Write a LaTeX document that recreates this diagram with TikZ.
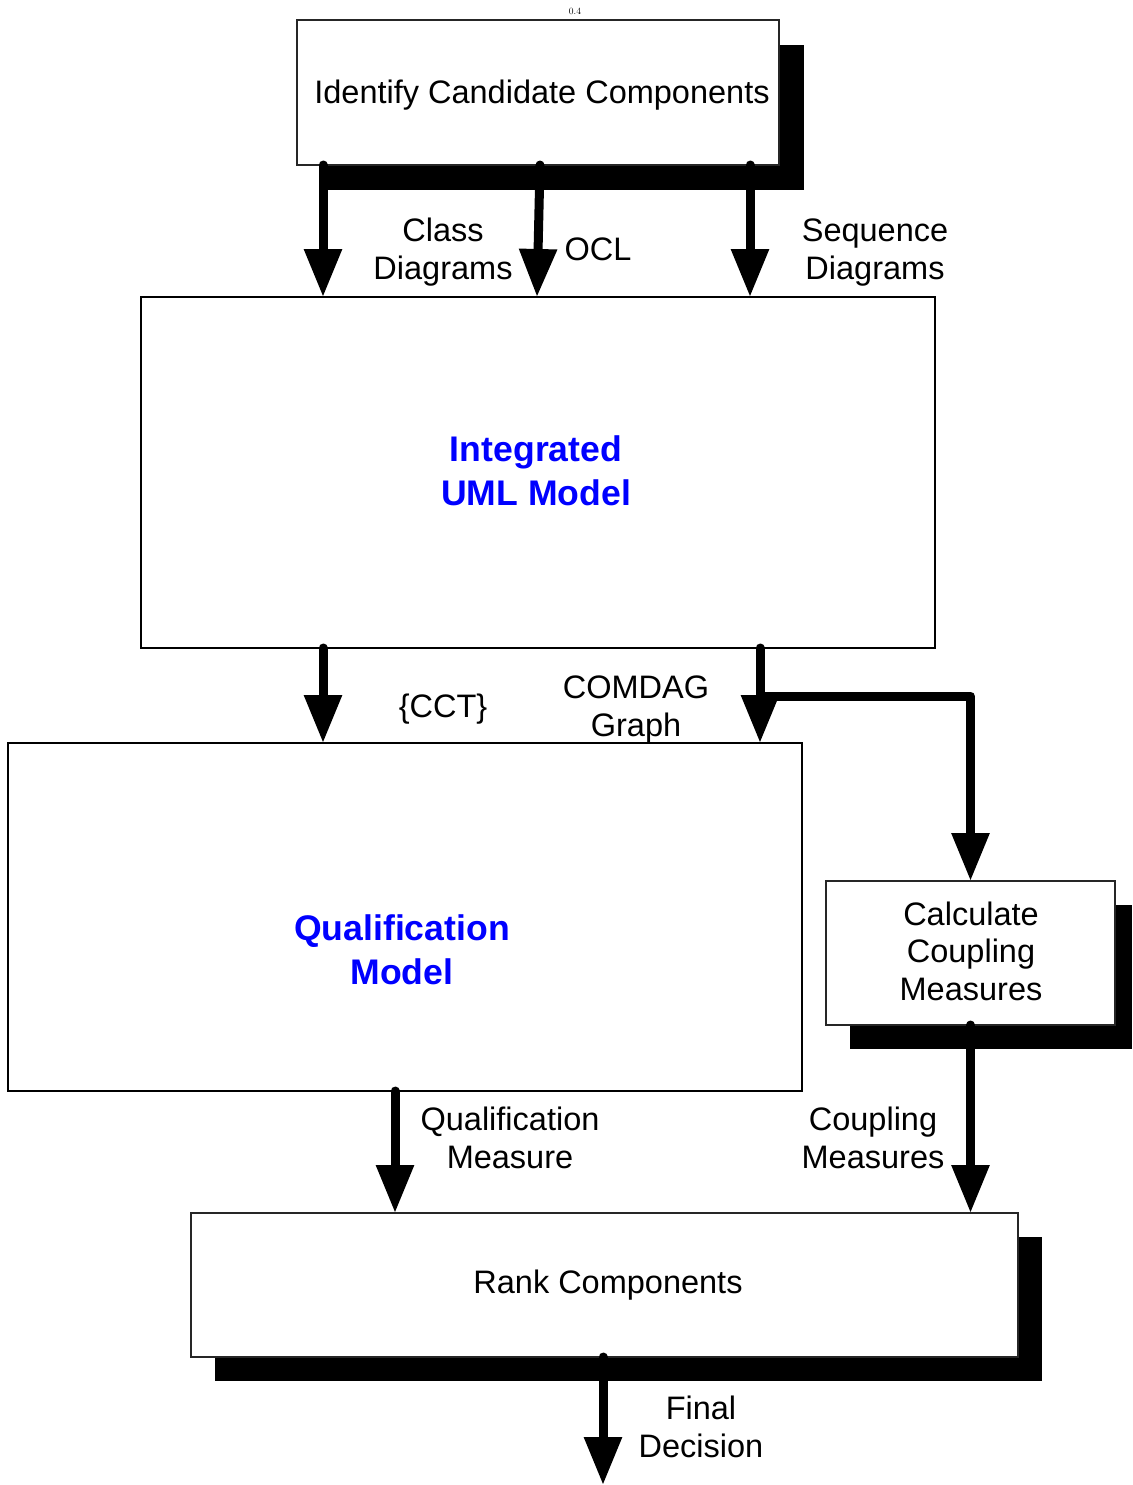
\documentclass[tikz,border=0pt]{standalone}
\usepackage{fontspec}
\newfontfamily\arial{Liberation Sans}
\usetikzlibrary{arrows.meta,calc}
\begin{document}
\begin{tikzpicture}[x=1pt,y=-1pt,
  box/.style={draw=black!85,line width=1.2pt,fill=white,inner sep=0pt,outer sep=0pt},
  shade/.style={fill=black},
  flow/.style={line width=9pt,line cap=round,line join=round,
    -{Triangle[length=48pt,width=36pt]}},
  lbl/.style={align=center,inner sep=0pt,font=\arial\fontsize{32.5}{38}\selectfont},
  title/.style={align=center,inner sep=0pt,text=blue,
    font=\arial\bfseries\fontsize{35.6}{44}\selectfont}]
\useasboundingbox (0,0) rectangle (1132,1485);

% drop shadows behind the process boxes
\fill[shade] (322,45) rectangle (804,190);
\fill[shade] (850,905) rectangle (1132,1049);
\fill[shade] (215,1237) rectangle (1042,1381);

% boxes
\node[box,minimum width=482pt,minimum height=145pt] (ident) at (538,92.5) {};
\node[box,draw=black,line width=2.6pt,minimum width=794pt,minimum height=351pt] (uml) at (538,472.5) {};
\node[box,draw=black,minimum width=794pt,minimum height=348pt] (qual) at (405,917) {};
\node[box,minimum width=289pt,minimum height=144pt] (calc) at (970.5,953) {};
\node[box,minimum width=827pt,minimum height=144pt] (rank) at (604.5,1285) {};

% box texts
\node[font=\fontsize{9.5}{10}\selectfont,inner sep=0pt] (scale) at (575,11) {0.4};
\node[lbl] (identtxt) at (542,95) {Identify Candidate Components};
\node[title] (umltxt) at (536,471) {Integrated\\UML Model};
\node[title] (qualtxt) at (402,950) {Qualification\\Model};
\node[lbl,font=\arial\fontsize{32.5}{37.5}\selectfont] (calctxt) at (971,951) {Calculate\\Coupling\\Measures};
\node[lbl] (ranktxt) at (608,1285) {Rank Components};

% connector labels
\node[lbl] (l1) at (443,252) {Class\\Diagrams};
\node[lbl] (l2) at (598,249) {OCL};
\node[lbl] (l3) at (875,253) {Sequence\\Diagrams};
\node[lbl] (l4) at (443,709) {\{CCT\}};
\node[lbl] (l5) at (636,710) {COMDAG\\Graph};
\node[lbl] (l6) at (510,1138) {Qualification\\Measure};
\node[lbl] (l7) at (873,1138) {Coupling\\Measures};
\node[lbl] (l8) at (701,1427) {Final\\Decision};

% stem positions
\coordinate (x1) at (323,0);
\coordinate (x2a) at (540,0);
\coordinate (x2b) at (537,0);
\coordinate (x3) at (750,0);
\coordinate (x5) at (760,0);
\coordinate (branch) at (760,696);
\coordinate (x8) at (395,0);
\coordinate (x9) at (603,0);
\coordinate (out) at (603,1485);

% connectors
\draw[flow] (x1 |- ident.south) -- (x1 |- uml.north);
\draw[flow] (x2a |- ident.south) -- (x2b |- uml.north);
\draw[flow] (x3 |- ident.south) -- (x3 |- uml.north);
\draw[flow] (x1 |- uml.south) -- (x1 |- qual.north);
\draw[flow] (x5 |- uml.south) -- (x5 |- qual.north);
\draw[flow] (branch) -| (calc.north);
\draw[flow] (calc.south) -- (calc.south |- rank.north);
\draw[flow] (x8 |- qual.south) -- (x8 |- rank.north);
\draw[flow] (x9 |- rank.south) -- (out);
\end{tikzpicture}
\end{document}
